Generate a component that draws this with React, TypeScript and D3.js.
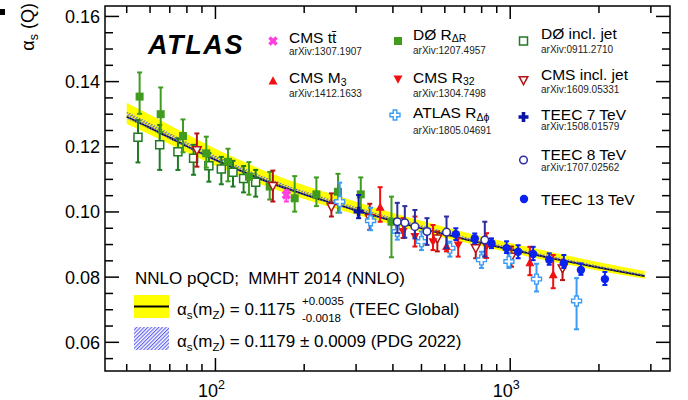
import React from "react";
import * as d3 from "d3";

const FONT = "'Liberation Sans', Arial, Helvetica, sans-serif";

// ---------- running coupling: theory bands ----------
const thQ = [50, 60, 70, 85, 100, 125, 150, 200, 250, 300, 400, 500, 700, 1000, 1400, 2000, 2860];
const teecMid = [0.1292, 0.1258, 0.1228, 0.119, 0.116, 0.1122, 0.1093, 0.1054, 0.1027, 0.1005, 0.0973, 0.095, 0.0917, 0.0885, 0.0857, 0.0829, 0.0803];
const teecHigh = [0.1334, 0.1298, 0.1266, 0.1226, 0.1194, 0.1154, 0.1123, 0.1082, 0.1054, 0.1031, 0.0997, 0.0973, 0.0938, 0.0905, 0.0876, 0.0846, 0.0819];
const teecLow = [0.127, 0.1237, 0.1208, 0.1172, 0.1142, 0.1106, 0.1077, 0.104, 0.1013, 0.0992, 0.0961, 0.0938, 0.0906, 0.0875, 0.0847, 0.082, 0.0795];
const pdgHigh = [0.1308, 0.1273, 0.1242, 0.1203, 0.1173, 0.1134, 0.1104, 0.1064, 0.1037, 0.1015, 0.0982, 0.0959, 0.0924, 0.0892, 0.0864, 0.0835, 0.0809];
const pdgLow = [0.1286, 0.1253, 0.1222, 0.1185, 0.1155, 0.1118, 0.1088, 0.105, 0.1023, 0.1001, 0.097, 0.0947, 0.0914, 0.0882, 0.0854, 0.0827, 0.0801];

// ---------- measurements: Q [GeV], alpha_s, +err, -err ----------
const d0RdrQ = [55.3, 65.2, 77.6, 93.1, 110.3, 129.9, 152.8, 185.7, 220, 260.5, 311.2, 395.5];
const d0RdrA = [0.1354, 0.13, 0.1233, 0.118, 0.1154, 0.1108, 0.1078, 0.1042, 0.1054, 0.1062, 0.1054, 0.097];
const d0RdrUp = [0.0074, 0.0082, 0.0051, 0.0051, 0.004, 0.0045, 0.0045, 0.0068, 0.0052, 0.0055, 0.0052, 0.0077];
const d0RdrDn = [0.0053, 0.0055, 0.005, 0.0044, 0.006, 0.0055, 0.004, 0.0041, 0.0036, 0.0064, 0.0048, 0.0109];

const d0JetQ = [54.6, 64.7, 74.6, 84.3, 95, 104.7, 114.7, 124.6, 136.9];
const d0JetA = [0.1229, 0.1206, 0.1185, 0.1165, 0.1142, 0.1132, 0.1122, 0.1103, 0.1091];
const d0JetUp = [0.0053, 0.0061, 0.0041, 0.0041, 0.0039, 0.0037, 0.0035, 0.0038, 0.0038];
const d0JetDn = [0.0077, 0.0077, 0.0056, 0.0051, 0.0049, 0.0047, 0.0044, 0.0043, 0.0044];

const cmsTtQ = [174];
const cmsTtA = [0.1052];
const cmsTtUp = [0.0015];
const cmsTtDn = [0.002];

const cmsM3Q = [362, 608, 1166, 1399];
const cmsM3A = [0.1014, 0.0894, 0.0844, 0.0807];
const cmsM3Up = [0.0062, 0.0051, 0.0049, 0.0061];
const cmsM3Dn = [0.0044, 0.0015, 0.0038, 0.0041];

const cmsR32Q = [433, 475, 547, 666, 831];
const cmsR32A = [0.094, 0.0925, 0.0909, 0.0899, 0.0894];
const cmsR32Up = [0.0041, 0.0061, 0.0051, 0.002, 0.0041];
const cmsR32Dn = [0.002, 0.0031, 0.0026, 0.0036, 0.0035];

const cmsJetQ = [86.5, 156.6, 247.4, 333.8, 566, 764, 1010, 1505];
const cmsJetA = [0.119, 0.108, 0.1016, 0.0981, 0.0919, 0.0889, 0.0863, 0.0827];
const cmsJetUp = [0.0051, 0.0047, 0.0041, 0.0044, 0.0021, 0.0025, 0.0031, 0.0025];
const cmsJetDn = [0.0051, 0.0048, 0.003, 0.0036, 0.004, 0.0031, 0.0031, 0.0036];

const atlasRdphiQ = [264, 336, 414, 500, 624, 799, 990, 1228, 1679];
const atlasRdphiA = [0.1032, 0.0973, 0.094, 0.0909, 0.0889, 0.0853, 0.0848, 0.0794, 0.0727];
const atlasRdphiUp = [0.0058, 0.004, 0.0031, 0.0031, 0.002, 0.0025, 0.0025, 0.0047, 0.007];
const atlasRdphiDn = [0.0034, 0.0029, 0.0025, 0.0026, 0.0026, 0.0025, 0.002, 0.0038, 0.0087];

const teec7Q = [306];
const teec7A = [0.1001];
const teec7Up = [0.0051];
const teec7Dn = [0.002];

const teec8Q = [414, 439, 475, 522, 608, 820];
const teec8A = [0.097, 0.0967, 0.0955, 0.094, 0.0938, 0.0914];
const teec8Up = [0.0058, 0.0051, 0.0051, 0.0041, 0.0048, 0.0056];
const teec8Dn = [0.0034, 0.0046, 0.0036, 0.0041, 0.0049, 0.0051];

const teec13Q = [654, 758, 864, 972, 1064, 1196, 1356, 1520, 1737, 2095];
const teec13A = [0.0932, 0.0919, 0.0904, 0.0889, 0.0878, 0.0871, 0.0853, 0.0843, 0.0822, 0.0794];
const teec13Up = [0.0018, 0.0015, 0.0015, 0.0021, 0.002, 0.0022, 0.002, 0.0025, 0.002, 0.0022];
const teec13Dn = [0.0018, 0.0015, 0.0015, 0.0015, 0.002, 0.0019, 0.0015, 0.0015, 0.0015, 0.0018];

// ---------- axis ticks ----------
const yMajor = [0.06, 0.08, 0.1, 0.12, 0.14, 0.16];
const yMajorLabels = ["0.06", "0.08", "0.10", "0.12", "0.14", "0.16"];
const yMinor = [0.055, 0.065, 0.07, 0.075, 0.085, 0.09, 0.095, 0.105, 0.11, 0.115, 0.125, 0.13, 0.135, 0.145, 0.15, 0.155];
const xMajor = [100, 1000];
const xMajorExp = ["2", "3"];
const xMinor = [50, 60, 70, 80, 90, 200, 300, 400, 500, 600, 700, 800, 900, 2000, 3000];

type Kind =
  | "sqFill"
  | "sqOpen"
  | "triUp"
  | "triDown"
  | "triDownOpen"
  | "crossOpen"
  | "crossFill"
  | "circOpen"
  | "circFill"
  | "xFill";

const C = {
  green: "#3f9c1e",
  darkGreen: "#1f7a24",
  magenta: "#ff40e0",
  red: "#f01010",
  darkRed: "#b41414",
  lightBlue: "#3d9cf5",
  navy: "#0a14a8",
  navyOpen: "#2a2ea0",
  blue: "#0a22f0",
};

const PLUS = "M-1.8,-5H1.8V-1.8H5V1.8H1.8V5H-1.8V1.8H-5V-1.8H-1.8Z";

function Marker({ kind, color, x, y }: { kind: Kind; color: string; x: number; y: number }) {
  const t = `translate(${x},${y})`;
  switch (kind) {
    case "sqFill":
      return <path transform={t} d="M-4,-4H4V4H-4Z" fill={color} />;
    case "sqOpen":
      return <path transform={t} d="M-4,-4H4V4H-4Z" fill="#fff" stroke={color} strokeWidth={1.5} />;
    case "triUp":
      return <path transform={t} d="M0,-4.8L4.5,3.4L-4.5,3.4Z" fill={color} />;
    case "triDown":
      return <path transform={t} d="M0,4.8L4.5,-3.4L-4.5,-3.4Z" fill={color} />;
    case "triDownOpen":
      return <path transform={t} d="M0,4.6L4.3,-3.3L-4.3,-3.3Z" fill="#fff" stroke={color} strokeWidth={1.5} />;
    case "crossOpen":
      return <path transform={t} d={PLUS} fill="#fff" stroke={color} strokeWidth={1.4} />;
    case "crossFill":
      return <path transform={t} d={PLUS} fill={color} />;
    case "circOpen":
      return <circle transform={t} r={3.8} fill="#fff" stroke={color} strokeWidth={1.5} />;
    case "circFill":
      return <circle transform={t} r={4.2} fill={color} />;
    case "xFill":
      return <path transform={`${t} rotate(45)`} d={PLUS} fill={color} />;
  }
  return null;
}

type Series = { q: number[]; a: number[]; up: number[]; dn: number[]; kind: Kind; color: string };

const series: Series[] = [
  { q: d0JetQ, a: d0JetA, up: d0JetUp, dn: d0JetDn, kind: "sqOpen", color: C.darkGreen },
  { q: d0RdrQ, a: d0RdrA, up: d0RdrUp, dn: d0RdrDn, kind: "sqFill", color: C.green },
  { q: cmsJetQ, a: cmsJetA, up: cmsJetUp, dn: cmsJetDn, kind: "triDownOpen", color: C.darkRed },
  { q: cmsTtQ, a: cmsTtA, up: cmsTtUp, dn: cmsTtDn, kind: "xFill", color: C.magenta },
  { q: atlasRdphiQ, a: atlasRdphiA, up: atlasRdphiUp, dn: atlasRdphiDn, kind: "crossOpen", color: C.lightBlue },
  { q: cmsR32Q, a: cmsR32A, up: cmsR32Up, dn: cmsR32Dn, kind: "triDown", color: C.red },
  { q: cmsM3Q, a: cmsM3A, up: cmsM3Up, dn: cmsM3Dn, kind: "triUp", color: C.red },
  { q: teec7Q, a: teec7A, up: teec7Up, dn: teec7Dn, kind: "crossFill", color: C.navy },
  { q: teec8Q, a: teec8A, up: teec8Up, dn: teec8Dn, kind: "circOpen", color: C.navyOpen },
  { q: teec13Q, a: teec13A, up: teec13Up, dn: teec13Dn, kind: "circFill", color: C.blue },
];

// ---------- legend entries ----------
type Entry = { kind: Kind; color: string; mx: number; my: number; tx: number; ty: number; name: string; sub?: string; ref: string; ry: number };
const entries: Entry[] = [
  { kind: "xFill", color: C.magenta, mx: 273, my: 41, tx: 289, ty: 43, name: "CMS tt\u0304", ref: "arXiv:1307.1907", ry: 54.5 },
  { kind: "triUp", color: C.red, mx: 273, my: 81, tx: 289, ty: 83, name: "CMS M", sub: "3", ref: "arXiv:1412.1633", ry: 97 },
  { kind: "sqFill", color: C.green, mx: 398, my: 41, tx: 413, ty: 39.5, name: "D\u00d8 R", sub: "\u0394R", ref: "arXiv:1207.4957", ry: 54 },
  { kind: "triDown", color: C.red, mx: 398, my: 79, tx: 413, ty: 82.5, name: "CMS R", sub: "32", ref: "arXiv:1304.7498", ry: 97 },
  { kind: "crossOpen", color: C.lightBlue, mx: 395, my: 115, tx: 413, ty: 118, name: "ATLAS R", sub: "\u0394\u03d5", ref: "arXiv:1805.04691", ry: 134 },
  { kind: "sqOpen", color: C.darkGreen, mx: 523.5, my: 41, tx: 541, ty: 38.5, name: "D\u00d8 incl. jet", ref: "arXiv:0911.2710", ry: 52.5 },
  { kind: "triDownOpen", color: C.darkRed, mx: 523.5, my: 80, tx: 541, ty: 79.5, name: "CMS incl. jet", ref: "arXiv:1609.05331", ry: 92.5 },
  { kind: "crossFill", color: C.navy, mx: 523.5, my: 117, tx: 541, ty: 119.5, name: "TEEC 7 TeV", ref: "arXiv:1508.01579", ry: 130 },
  { kind: "circOpen", color: C.navyOpen, mx: 523.5, my: 160, tx: 541, ty: 159.5, name: "TEEC 8 TeV", ref: "arXiv:1707.02562", ry: 171 },
  { kind: "circFill", color: C.blue, mx: 524, my: 199, tx: 541, ty: 205, name: "TEEC 13 TeV", ref: "", ry: 0 },
];

export default function App() {
  const L = 105, R = 670, T = 6, B = 371;
  const x = d3.scaleLog().domain([42.2, 3484]).range([L, R]);
  const y = d3.scaleLinear().domain([0.0512, 0.1632]).range([B, T]);

  const band = (lo: number[], hi: number[]) =>
    d3
      .area<number>()
      .x((q) => x(q))
      .y0((_, i) => y(lo[i]))
      .y1((_, i) => y(hi[i]))
      .curve(d3.curveMonotoneX)(thQ) || "";
  const curve = (v: number[]) =>
    d3
      .line<number>()
      .x((q) => x(q))
      .y((_, i) => y(v[i]))
      .curve(d3.curveMonotoneX)(thQ) || "";

  return (
    <svg
      width={688}
      height={400}
      viewBox="0 0 688 400"
      style={{ position: "absolute", left: 0, top: 0, background: "#fff" }}
      fontFamily={FONT}
    >
      <defs>
        <pattern id="pdgHatch" patternUnits="userSpaceOnUse" width={2.6} height={2.6} patternTransform="rotate(45)">
          <line x1={0.6} y1={0} x2={0.6} y2={2.6} stroke="#5a5cf2" strokeWidth={1.1} />
        </pattern>
        <clipPath id="plotArea">
          <rect x={L} y={T} width={R - L} height={B - T} />
        </clipPath>
      </defs>
      <rect width={688} height={400} fill="#fff" />

      {/* corner mark */}
      <rect x={0} y={9} width={5} height={6} fill="#000" />

      <g clipPath="url(#plotArea)">
        {/* TEEC global fit band and central value */}
        <path d={band(teecLow, teecHigh)} fill="#ffff00" />
        <path d={curve(teecMid)} fill="none" stroke="#000" strokeWidth={1.8} />
        {/* PDG world average band */}
        <path d={band(pdgLow, pdgHigh)} fill="url(#pdgHatch)" />

        {/* measurements */}
        {series.map((s, si) => (
          <g key={si}>
            {s.q.map((q, i) => {
              const cx = x(q);
              const yt = y(s.a[i] + s.up[i]);
              const yb = y(s.a[i] - s.dn[i]);
              return (
                <g key={i} stroke={s.color} strokeWidth={2}>
                  <line x1={cx} x2={cx} y1={yt} y2={yb} />
                  <line x1={cx - 2.5} x2={cx + 2.5} y1={yt} y2={yt} />
                  <line x1={cx - 2.5} x2={cx + 2.5} y1={yb} y2={yb} />
                </g>
              );
            })}
            {s.q.map((q, i) => (
              <Marker key={"m" + i} kind={s.kind} color={s.color} x={x(q)} y={y(s.a[i])} />
            ))}
          </g>
        ))}
      </g>

      {/* frame and ticks */}
      <g stroke="#000" strokeWidth={1.5} fill="none">
        <rect x={L} y={T} width={R - L} height={B - T} />
        {yMajor.map((v) => (
          <g key={"ym" + v}>
            <line x1={L} x2={L + 14} y1={y(v)} y2={y(v)} />
            <line x1={R} x2={R - 14} y1={y(v)} y2={y(v)} />
          </g>
        ))}
        {yMinor.map((v) => (
          <g key={"yn" + v}>
            <line x1={L} x2={L + 8} y1={y(v)} y2={y(v)} />
            <line x1={R} x2={R - 8} y1={y(v)} y2={y(v)} />
          </g>
        ))}
        {xMajor.map((v) => (
          <g key={"xm" + v}>
            <line x1={x(v)} x2={x(v)} y1={B} y2={B - 13} />
            <line x1={x(v)} x2={x(v)} y1={T} y2={T + 13} />
          </g>
        ))}
        {xMinor.map((v) => (
          <g key={"xn" + v}>
            <line x1={x(v)} x2={x(v)} y1={B} y2={B - 7} />
            <line x1={x(v)} x2={x(v)} y1={T} y2={T + 7} />
          </g>
        ))}
      </g>

      {/* tick labels */}
      {yMajor.map((v, i) => (
        <text key={"yl" + v} x={100} y={y(v)} dy="0.36em" textAnchor="end" fontSize={18}>
          {yMajorLabels[i]}
        </text>
      ))}
      {xMajor.map((v, i) => (
        <text key={"xl" + v} x={x(v) - 4} y={397} textAnchor="middle" fontSize={18}>
          10
          <tspan dy={-8} fontSize={12.5}>
            {xMajorExp[i]}
          </tspan>
        </text>
      ))}

      {/* y-axis title */}
      <text transform="translate(34,3) rotate(-90)" textAnchor="end" fontSize={18}>
        <tspan>α</tspan>
        <tspan fontSize={12.5} dy={4}>s</tspan>
        <tspan dy={-4}> (Q)</tspan>
      </text>

      {/* experiment label */}
      <text x={148} y={54} fontSize={27} fontWeight="bold" fontStyle="italic" letterSpacing={1.6}>
        ATLAS
      </text>

      {/* measurement legend */}
      {entries.map((e, i) => (
        <g key={"lg" + i}>
          <Marker kind={e.kind} color={e.color} x={e.mx} y={e.my} />
          <text x={e.tx} y={e.ty} fontSize={15.5}>
            {e.name}
            {e.sub ? (
              <tspan fontSize={10.5} dy={2.5}>
                {e.sub}
              </tspan>
            ) : null}
          </text>
          {e.ref ? (
            <text x={e.tx} y={e.ry} fontSize={10} fill="#222">
              {e.ref}
            </text>
          ) : null}
        </g>
      ))}

      {/* theory legend */}
      <text x={135} y={283.5} fontSize={17}>
        {"NNLO pQCD;\u00a0 MMHT 2014 (NNLO)"}
      </text>
      <rect x={134} y={295} width={35} height={23} fill="#ffff00" />
      <line x1={134} x2={169} y1={306.5} y2={306.5} stroke="#000" strokeWidth={2} />
      <text x={177} y={315} fontSize={17}>
        α<tspan fontSize={11.5} dy={4}>s</tspan>
        <tspan dy={-4}>(m</tspan>
        <tspan fontSize={11.5} dy={4}>Z</tspan>
        <tspan dy={-4}>) = 0.1175</tspan>
      </text>
      <text x={302} y={305} fontSize={11.5}>+0.0035</text>
      <text x={302} y={322} fontSize={11.5}>-0.0018</text>
      <text x={349} y={315} fontSize={17}>
        (TEEC Global)
      </text>
      <rect x={134} y={327} width={35} height={23} fill="url(#pdgHatch)" />
      <text x={177} y={347} fontSize={17}>
        α<tspan fontSize={11.5} dy={4}>s</tspan>
        <tspan dy={-4}>(m</tspan>
        <tspan fontSize={11.5} dy={4}>Z</tspan>
        <tspan dy={-4}>) = 0.1179 ± 0.0009 (PDG 2022)</tspan>
      </text>
    </svg>
  );
}
